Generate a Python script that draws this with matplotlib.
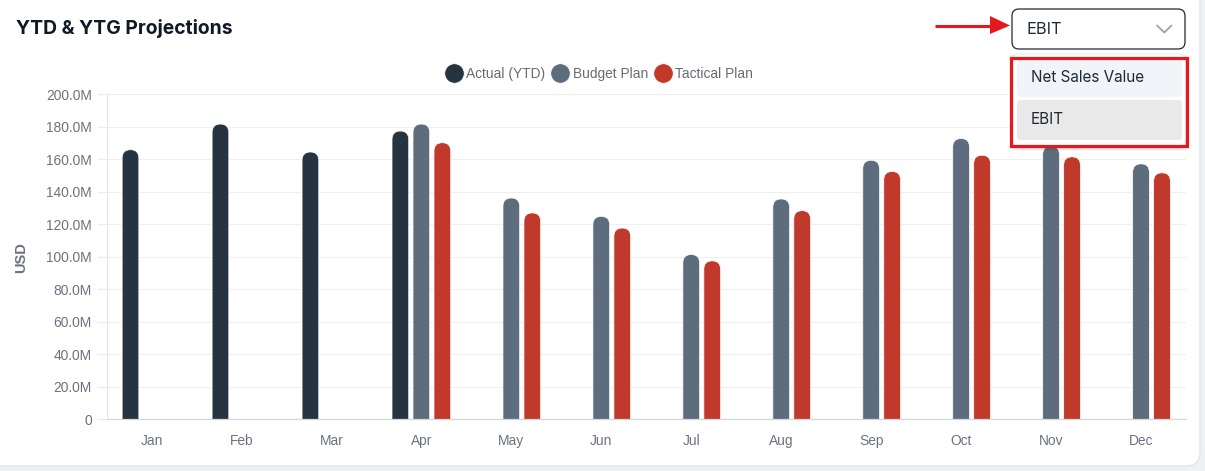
import numpy as np
import matplotlib
matplotlib.use("Agg")
import matplotlib.pyplot as plt
from matplotlib.patches import FancyBboxPatch, Rectangle, Polygon
from matplotlib.lines import Line2D

# ---------------- data ----------------
months = ["Jan", "Feb", "Mar", "Apr", "May", "Jun", "Jul", "Aug", "Sep", "Oct", "Nov", "Dec"]
actual_ytd = [165.9, 181.7, 164.5, 177.4, np.nan, np.nan, np.nan, np.nan, np.nan, np.nan, np.nan, np.nan]
budget_plan = [np.nan, np.nan, np.nan, 181.7, 136.2, 124.9, 101.4, 135.6, 159.4, 172.8, 168.1, 157.2]
tactical_plan = [np.nan, np.nan, np.nan, 170.2, 127.0, 117.7, 97.5, 128.4, 152.5, 162.5, 161.5, 151.7]
series_names = ["Actual (YTD)", "Budget Plan", "Tactical Plan"]
series_colors = ["#263340", "#5e6d7e", "#c0392b"]
y_ticks = [0, 20, 40, 60, 80, 100, 120, 140, 160, 180, 200]
y_tick_labels = ["0"] + [f"{v:.1f}M" for v in y_ticks[1:]]
title_text = "YTD & YTG Projections"
y_label = "USD"
dropdown_value = "EBIT"
dropdown_options = ["Net Sales Value", "EBIT"]

W, H = 1205, 471
DPI = 100
fig = plt.figure(figsize=(W / DPI, H / DPI), dpi=DPI)
fig.patch.set_facecolor("#eef0f3")

# background overlay (card)
bg = fig.add_axes([0, 0, 1, 1], zorder=0)
bg.set_xlim(0, W)
bg.set_ylim(H, 0)
bg.axis("off")
bg.add_patch(FancyBboxPatch((-20, -20), 1220, 486, boxstyle="round,pad=0,rounding_size=14",
                            facecolor="white", edgecolor="#e3e5e8", linewidth=1.0))

# chart axes
left_px, right_px, top_px, bottom_px = 106.5, 1186, 94.3, 419.3
ax = fig.add_axes([left_px / W, 1 - bottom_px / H, (right_px - left_px) / W, (bottom_px - top_px) / H], zorder=1)
ax.set_facecolor("none")

x = np.arange(len(months))
offset = 21 / 90.0
bw = 16.7 / 90.0
px_per_x = (right_px - left_px) / 12.0
px_per_y = (bottom_px - top_px) / 200.0
aspect = (1 / px_per_y) / (1 / px_per_x)

for i, (vals, col) in enumerate(zip([actual_ytd, budget_plan, tactical_plan], series_colors)):
    vals = np.array(vals, dtype=float)
    bars = ax.bar(x + (i - 1) * offset, np.nan_to_num(vals), width=bw, color=col)
    for b, v in zip(bars, vals):
        bx, by = b.get_x(), b.get_y()
        bwid, bh = b.get_width(), b.get_height()
        b.remove()
        if np.isnan(v):
            continue
        r = bwid / 2
        p = FancyBboxPatch((bx, -20), bwid, bh + 20,
                           boxstyle=f"round,pad=0,rounding_size={r}",
                           mutation_aspect=aspect, facecolor=col,
                           edgecolor="white", linewidth=0.5, zorder=2)
        ax.add_patch(p)

ax.set_xlim(-0.5, 11.5)
ax.set_ylim(0, 200)
ax.set_xticks(x)
ax.set_xticklabels(months)
ax.set_yticks(y_ticks)
ax.set_yticklabels(y_tick_labels)
for lab in ax.get_xticklabels() + ax.get_yticklabels():
    lab.set_fontfamily("Liberation Sans")
    lab.set_fontsize(9.9)
    lab.set_color("#6b7280")
ax.tick_params(axis="y", length=7.5, color="#ececec", width=0.8, pad=3)
ax.tick_params(axis="x", length=0, pad=10.5)
ax.grid(axis="y", color="#efefef", linewidth=0.8)
ax.set_axisbelow(True)
for s in ["top", "right"]:
    ax.spines[s].set_visible(False)
ax.spines["left"].set_color("#e6e6e6")
ax.spines["left"].set_linewidth(0.8)
ax.spines["bottom"].set_color("#d4d6da")
ax.spines["bottom"].set_linewidth(0.9)
ax.set_ylabel(y_label, fontfamily="Liberation Sans", fontweight="bold", fontsize=10.5, color="#6b7280")
ax.yaxis.set_label_coords((28 - left_px) / (right_px - left_px), (bottom_px - 258) / (bottom_px - top_px))

handles = [Line2D([], [], marker="o", linestyle="none", markersize=14, markerfacecolor=c,
                  markeredgecolor="white", markeredgewidth=0.5) for c in series_colors]
leg = fig.legend(handles, series_names, loc="center", bbox_to_anchor=(599 / W, 1 - 74 / H), ncol=3,
                 frameon=False, handletextpad=0.25, columnspacing=0.45, handlelength=1.3,
                 prop=dict(family="Liberation Sans", size=9.9))
for t in leg.get_texts():
    t.set_color("#666b73")

# foreground overlay
fg = fig.add_axes([0, 0, 1, 1], zorder=3)
fg.set_xlim(0, W)
fg.set_ylim(H, 0)
fg.axis("off")
fg.patch.set_alpha(0)

fg.text(16, 29, title_text, fontfamily="Inter", fontweight="bold", fontsize=13.9, color="#111827",
        va="center", ha="left")

# dropdown box
fg.add_patch(FancyBboxPatch((1012, 9), 173, 40, boxstyle="round,pad=0,rounding_size=7",
                            facecolor="white", edgecolor="#1f2937", linewidth=0.9))
fg.text(1027, 29.5, dropdown_value, fontfamily="Inter", fontsize=11.8, color="#1f2937", va="center", ha="left")
fg.plot([1157, 1164.3, 1171.5], [25.5, 32.5, 25.5], color="#9aa3b0", linewidth=1.3, solid_capstyle="round")

# red arrow
fg.plot([935, 995], [25.5, 25.5], color="#e3191e", linewidth=2.2, solid_capstyle="butt")
fg.add_patch(Polygon([(990, 16), (1010, 25.5), (990, 34)], closed=True, facecolor="#e3191e", edgecolor="none"))

# dropdown menu with shadow
for k, a in enumerate([0.04, 0.04, 0.05]):
    d = 3 - k
    fg.add_patch(FancyBboxPatch((1013 - d, 54 - d + 2), 172 + 2 * d, 92 + 2 * d,
                                boxstyle="round,pad=0,rounding_size=6", facecolor="black",
                                edgecolor="none", alpha=a))
fg.add_patch(FancyBboxPatch((1013, 54), 172, 92, boxstyle="round,pad=0,rounding_size=6",
                            facecolor="white", edgecolor="#eceef1", linewidth=0.6))
fg.add_patch(FancyBboxPatch((1017, 58), 165, 39, boxstyle="round,pad=0,rounding_size=4",
                            facecolor="#f1f4f8", edgecolor="none"))
fg.add_patch(FancyBboxPatch((1017, 100), 165, 40, boxstyle="round,pad=0,rounding_size=4",
                            facecolor="#e8e9e8", edgecolor="none"))
fg.text(1031, 78, dropdown_options[0], fontfamily="Inter", fontsize=11.0, color="#1f2937", va="center", ha="left")
fg.text(1031, 119.5, dropdown_options[1], fontfamily="Inter", fontsize=11.0, color="#1f2937", va="center", ha="left")
fg.add_patch(Rectangle((1010.5, 57.5), 176, 88, facecolor="none", edgecolor="#e3191e", linewidth=2.3))

fig.savefig("out.png", dpi=DPI, facecolor=fig.get_facecolor())
